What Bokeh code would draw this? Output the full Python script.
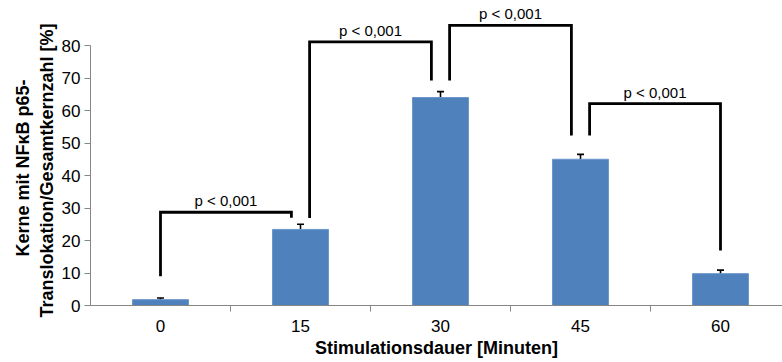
import numpy as np
from bokeh.plotting import figure
from bokeh.models import FixedTicker, LabelSet, ColumnDataSource, Whisker, Range1d, TeeHead, Title
from bokeh.core.properties import value
from bokeh.embed import file_html
from bokeh.resources import INLINE

# ---- data ----
categories = ["0", "15", "30", "45", "60"]
means = [1.8, 23.4, 64.0, 45.0, 9.8]
errors = [0.5, 1.6, 1.8, 1.5, 1.1]
y_ticks = [0, 10, 20, 30, 40, 50, 60, 70, 80]

# significance brackets between neighbouring categories
br_left = [0, 1, 2, 3]
br_right = [1, 2, 3, 4]
br_height = [28.7, 81.1, 86.2, 62.1]
br_left_end = [9.0, 26.9, 69.2, 52.3]
br_right_end = [27.0, 69.2, 52.3, 16.9]
br_text = ["p < 0,001", "p < 0,001", "p < 0,001", "p < 0,001"]

y_title_lines = ["Kerne mit NFκB p65-", "Translokation/Gesamtkernzahl [%]"]
x_title = "Stimulationsdauer [Minuten]"

FONT = "Liberation Sans"
BLUE = "#4F81BD"
GRAY = "#868686"

n = len(categories)
xc = np.arange(n) + 0.5
W, H = 782, 362
left, bottom = 90, 57
px_x = 140.0     # pixels per category
px_y = 3.25      # pixels per y unit

p = figure(width=W, height=H, output_backend="svg", toolbar_location=None,
           x_range=Range1d(0, (W - left) / px_x), y_range=Range1d(0, (H - bottom) / px_y),
           min_border_left=left, min_border_right=0, min_border_top=0, min_border_bottom=bottom)
p.outline_line_color = None
p.xgrid.visible = False
p.ygrid.visible = False
p.background_fill_color = "white"
p.border_fill_color = "white"

# bars
src = ColumnDataSource(dict(x=xc, top=means,
                            upper=[m + e for m, e in zip(means, errors)],
                            lower=[m - e for m, e in zip(means, errors)]))
p.vbar(x="x", top="top", width=0.4, source=src, fill_color=BLUE,
       line_color="#6C97CB", line_width=1)

# error bars
w = Whisker(base="x", upper="upper", lower="lower", source=src,
            line_color="black", line_width=1.6,
            upper_head=TeeHead(size=7, line_width=1.6, line_color="black"),
            lower_head=TeeHead(size=7, line_width=1.6, line_color="black"))
p.add_layout(w)

# brackets
off = 0.065
xs, ys, tx, ty = [], [], [], []
for l, r, h, le, re in zip(br_left, br_right, br_height, br_left_end, br_right_end):
    xl = l + 0.5 + (off if l > 0 else 0)
    xr = r + 0.5 - (off if r < n - 1 else 0)
    xs.append([xl, xl, xr, xr])
    ys.append([le, h, h, re])
    tx.append((xl + xr) / 2)
    ty.append(h)
p.multi_line(xs=xs, ys=ys, line_color="black", line_width=2.8, line_join="miter")
lsrc = ColumnDataSource(dict(x=tx, y=ty, text=br_text))
p.add_layout(LabelSet(x="x", y="y", text="text", source=lsrc, text_align="center",
                      text_baseline="bottom", y_offset=3, text_font=value(FONT),
                      text_font_size=value("15px"), text_color="black"))

# y axis
yax = p.yaxis[0]
yax.ticker = FixedTicker(ticks=y_ticks)
yax.bounds = (0, 80)
yax.axis_line_color = GRAY
yax.major_tick_line_color = GRAY
yax.major_tick_out = 6
yax.major_tick_in = 0
yax.minor_tick_line_color = None
yax.major_label_text_font = FONT
yax.major_label_text_font_size = "17px"
yax.major_label_text_color = "black"
yax.major_label_standoff = 4

# y axis title: two titles in the left panel, each starting near the bottom
for txt, offs, stand in [(y_title_lines[1], -12, 4), (y_title_lines[0], 49, 0)]:
    p.add_layout(Title(text=txt, align="left", offset=offs, standoff=stand,
                       text_font=FONT, text_font_size="18px", text_font_style="bold",
                       text_color="black"), "left")

# x axis
xax = p.xaxis[0]
xax.ticker = FixedTicker(ticks=list(xc), minor_ticks=[1, 2, 3, 4, 5])
xax.major_label_overrides = {float(x): c for x, c in zip(xc, categories)}
xax.axis_line_color = GRAY
xax.major_tick_line_color = None
xax.major_tick_out = 0
xax.minor_tick_line_color = GRAY
xax.minor_tick_out = 6
xax.minor_tick_in = 0
xax.major_label_text_font = FONT
xax.major_label_text_font_size = "17px"
xax.major_label_text_color = "black"
xax.major_label_standoff = 8
xax.axis_label = x_title
xax.axis_label_text_font = FONT
xax.axis_label_text_font_size = "18px"
xax.axis_label_text_font_style = "bold"
xax.axis_label_standoff = 3
xax.axis_label_text_color = "black"

open("out.html", "w").write(file_html(p, INLINE))
